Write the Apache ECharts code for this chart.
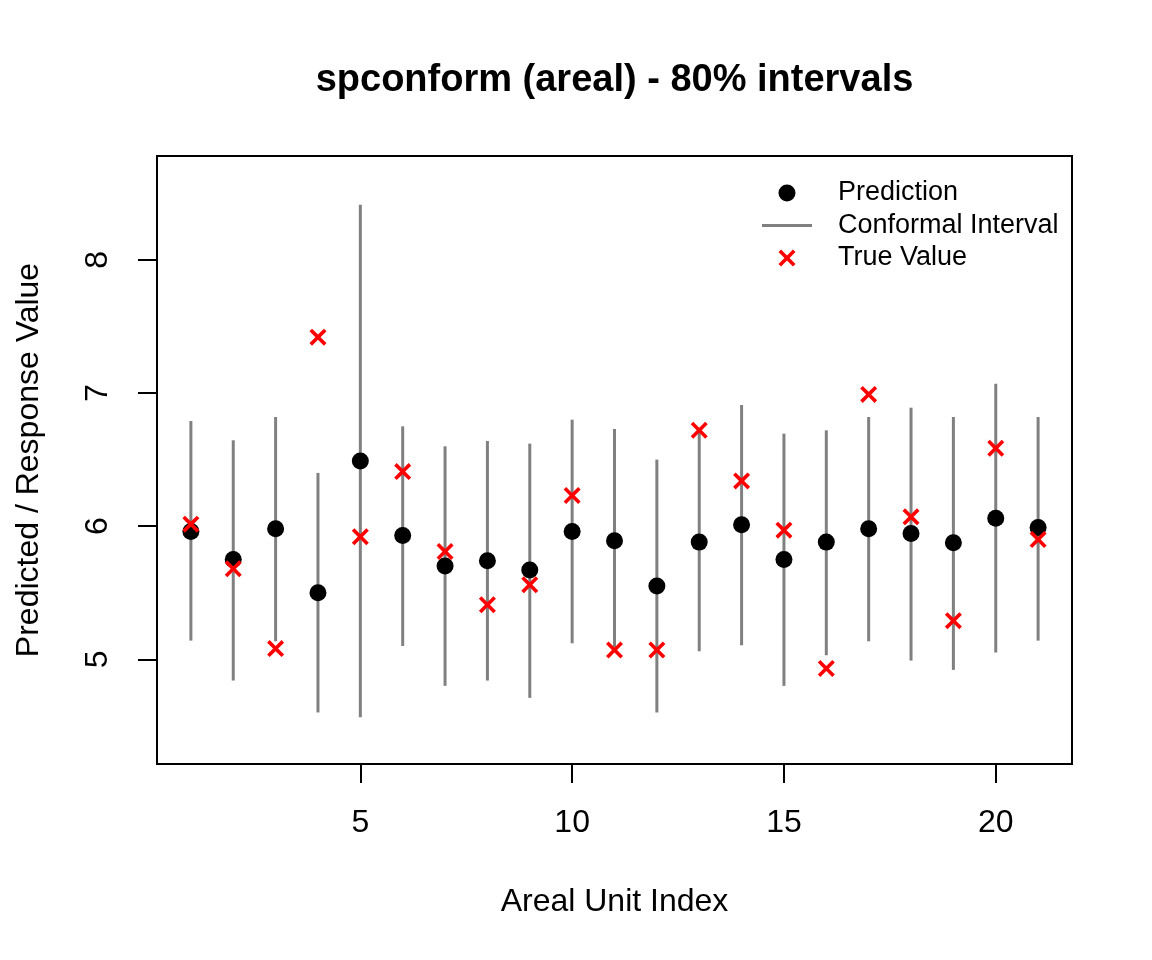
<!DOCTYPE html>
<html>
<head>
<meta charset="utf-8">
<script src="https://cdn.jsdelivr.net/npm/echarts@6/dist/echarts.min.js"></script>
<style>
html,body{margin:0;padding:0;background:#ffffff;}
#chart{width:1152px;height:960px;}
</style>
</head>
<body>
<div id="chart"></div>
<script>
// ---- data ----
const unitIndex  = [1,2,3,4,5,6,7,8,9,10,11,12,13,14,15,16,17,18,19,20,21];
const prediction = [5.96,5.75,5.98,5.50,6.49,5.93,5.70,5.74,5.67,5.96,5.89,5.55,5.88,6.01,5.75,5.88,5.98,5.945,5.875,6.06,5.99];
const lowerBound = [5.14,4.84,5.135,4.60,4.565,5.10,4.80,4.84,4.71,5.12,5.09,4.60,5.06,5.105,4.80,5.03,5.135,4.99,4.92,5.05,5.14];
const upperBound = [6.79,6.645,6.82,6.40,8.415,6.75,6.60,6.64,6.62,6.80,6.73,6.50,6.73,6.91,6.695,6.72,6.82,6.89,6.82,7.07,6.82];
const trueValue  = [6.015,5.68,5.08,7.42,5.92,6.41,5.81,5.41,5.56,6.23,5.07,5.07,6.72,6.34,5.97,4.93,6.99,6.07,5.29,6.585,5.90];
const xTickValues = [5,10,15,20];
const yTickValues = [5,6,7,8];

const titleText = 'spconform (areal) - 80% intervals';
const xName = 'Areal Unit Index';
const yName = 'Predicted / Response Value';
const seriesNames = ['Prediction','Conformal Interval','True Value'];

// ---- styling ----
const FONT = '"Liberation Sans", Arial, Helvetica, sans-serif';
const crossPath = 'path://M0,2.4L2.4,0L8,5.6L13.6,0L16,2.4L10.4,8L16,13.6L13.6,16L8,10.4L2.4,16L0,13.6L5.6,8Z';
const linePath = 'path://M0,0H50V3H0Z';

const chart = echarts.init(document.getElementById('chart'), null, {renderer:'canvas'});

const intervalData = unitIndex.map((x,i)=>[x, lowerBound[i], upperBound[i]]);
const predData = unitIndex.map((x,i)=>[x, prediction[i]]);
const trueData = unitIndex.map((x,i)=>[x, trueValue[i]]);

const axisCommon = {
  type:'value',
  axisLine:{show:false},
  splitLine:{show:false},
  nameLocation:'middle',
  nameTextStyle:{fontFamily:FONT,fontSize:32,color:'#000',lineHeight:32}
};

chart.setOption({
  animation:false,
  backgroundColor:'#ffffff',
  graphic:[{
    type:'text',
    x:614.5, y:81,
    style:{text:titleText, font:'bold 38px ' + FONT, fill:'#000', textAlign:'center', textVerticalAlign:'middle'}
  }],
  grid:{left:157, top:156, width:915, height:608, show:true, borderColor:'#000', borderWidth:2, backgroundColor:'transparent', containLabel:false},
  legend:{
    orient:'vertical', left:762, top:179.5, padding:0,
    itemWidth:50, itemHeight:17, itemGap:5.5, selectedMode:false,
    formatter: n => '{t|' + n + '}',
    textStyle:{fontFamily:FONT,fontSize:27,color:'#000',lineHeight:27,
      rich:{t:{fontFamily:FONT,fontSize:27,color:'#000',lineHeight:27,padding:[0,0,0,21]}}},
    data:[
      {name:seriesNames[0], icon:'circle', itemStyle:{color:'#000000',opacity:1}},
      {name:seriesNames[1], icon:linePath, itemStyle:{color:'#808080',opacity:1}},
      {name:seriesNames[2], icon:crossPath, itemStyle:{color:'#ff0000',opacity:1}}
    ]
  },
  xAxis:Object.assign({}, axisCommon, {
    min:0.2, max:21.8,
    name:xName, nameGap:122,
    nameTextStyle:{fontFamily:FONT,fontSize:32,color:'#000',lineHeight:32,verticalAlign:'top'},
    axisTick:{show:true,inside:false,length:19,lineStyle:{color:'#000',width:2},customValues:xTickValues},
    axisLabel:{customValues:xTickValues,fontFamily:FONT,fontSize:32,color:'#000',margin:43}
  }),
  yAxis:Object.assign({}, axisCommon, {
    min:4.213, max:8.781,
    name:yName, nameGap:112, nameRotate:90,
    axisTick:{show:true,inside:false,length:19,lineStyle:{color:'#000',width:2},customValues:yTickValues},
    axisLabel:{customValues:yTickValues,fontFamily:FONT,fontSize:32,color:'#000',margin:43,rotate:90}
  }),
  series:[
    {
      name:seriesNames[1],
      type:'custom',
      itemStyle:{color:'#808080'},
      encode:{x:0,y:[1,2]},
      data:intervalData,
      renderItem:function(params, api){
        const x = api.value(0);
        const p1 = api.coord([x, api.value(1)]);
        const p2 = api.coord([x, api.value(2)]);
        return {type:'line', shape:{x1:p1[0],y1:p1[1],x2:p2[0],y2:p2[1]},
                style:{stroke:'#808080',lineWidth:3}};
      }
    },
    {
      name:seriesNames[0],
      type:'scatter',
      symbol:'circle', symbolSize:17,
      itemStyle:{color:'#000000',opacity:1},
      data:predData
    },
    {
      name:seriesNames[2],
      type:'scatter',
      symbol:crossPath, symbolSize:17,
      itemStyle:{color:'#ff0000',opacity:1},
      data:trueData
    }
  ]
});
</script>
</body>
</html>
